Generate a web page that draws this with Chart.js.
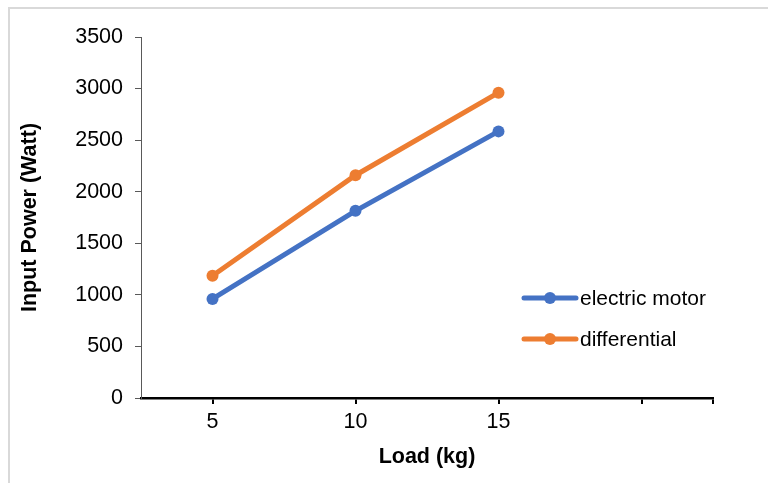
<!DOCTYPE html>
<html>
<head>
<meta charset="utf-8">
<script src="https://cdn.jsdelivr.net/npm/chart.js@4/dist/chart.umd.min.js"></script>
<style>
  html, body { margin: 0; padding: 0; background: #fff; }
  #wrap { position: relative; width: 768px; height: 483px; }
  #frame { position: absolute; left: 8px; top: 7px; right: -5px; bottom: -5px;
           border-left: 2px solid #d9d9d9; border-top: 2px solid #d9d9d9; }
  canvas { position: absolute; left: 0; top: 0; }
</style>
</head>
<body>
<div id="wrap">
  <div id="frame"></div>
  <canvas id="chart" width="768" height="483"></canvas>
</div>
<script>
const loads = [5, 10, 15]
const electricMotor = [960, 1815, 2585]
const differential = [1185, 2160, 2960]
const xTicks = [5, 10, 15, 20, 22.5]
const xLabels = ['5', '10', '15', '', '']

const font = { family: 'Liberation Sans, Arial, sans-serif', size: 21.5 }
const titleFont = { family: 'Liberation Sans, Arial, sans-serif', size: 21.5, weight: 'bold' }

const legendPlugin = {
  id: 'sideLegend',
  afterDraw(chart) {
    const ctx = chart.ctx
    const rows = [298, 339]
    chart.data.datasets.forEach((ds, i) => {
      const y = rows[i]
      ctx.save()
      ctx.strokeStyle = ds.borderColor
      ctx.lineWidth = 5
      ctx.lineCap = 'round'
      ctx.beginPath()
      ctx.moveTo(524, y)
      ctx.lineTo(576, y)
      ctx.stroke()
      ctx.fillStyle = ds.borderColor
      ctx.beginPath()
      ctx.arc(550, y, 6, 0, Math.PI * 2)
      ctx.fill()
      ctx.fillStyle = '#000'
      ctx.font = '21px Liberation Sans, Arial, sans-serif'
      ctx.textBaseline = 'middle'
      ctx.fillText(ds.label, 580, y + 1)
      ctx.restore()
    })
  }
}

new Chart(document.getElementById('chart'), {
  type: 'line',
  data: {
    datasets: [{
      label: 'electric motor',
      data: loads.map((x, i) => ({ x: x, y: electricMotor[i] })),
      borderColor: '#4472C4',
      backgroundColor: '#4472C4',
      borderWidth: 5,
      pointRadius: 6,
      pointBorderWidth: 0,
      tension: 0
    }, {
      label: 'differential',
      data: loads.map((x, i) => ({ x: x, y: differential[i] })),
      borderColor: '#ED7D31',
      backgroundColor: '#ED7D31',
      borderWidth: 5,
      pointRadius: 6,
      pointBorderWidth: 0,
      tension: 0
    }]
  },
  options: {
    responsive: false,
    animation: false,
    layout: { padding: { top: 37, right: 55, left: 0, bottom: 0 } },
    plugins: {
      legend: { display: false },
      tooltip: { enabled: false }
    },
    scales: {
      x: {
        type: 'linear',
        min: 2.5,
        max: 22.5,
        afterBuildTicks: axis => { axis.ticks = xTicks.map(v => ({ value: v })) },
        afterFit: axis => { axis.height = 85 },
        border: { color: '#000', width: 2.5 },
        grid: { drawOnChartArea: false, tickLength: 6, color: '#000', lineWidth: 2 },
        ticks: {
          color: '#000', font: font, padding: 5, maxRotation: 0,
          callback: (v, i) => xLabels[i]
        },
        title: { display: true, text: 'Load (kg)', color: '#000', font: titleFont, padding: { top: 0, bottom: 13 } }
      },
      y: {
        min: 0,
        max: 3500,
        afterFit: axis => { axis.width = 141 },
        border: { color: '#595959', width: 1 },
        grid: { drawOnChartArea: false, tickLength: 6, color: '#595959' },
        ticks: { stepSize: 500, color: '#000', font: font, padding: 12, callback: v => String(v) },
        title: { display: true, text: 'Input Power (Watt)', color: '#000', font: titleFont, padding: { top: 17, bottom: 0 } }
      }
    }
  },
  plugins: [legendPlugin]
})
</script>
</body>
</html>
